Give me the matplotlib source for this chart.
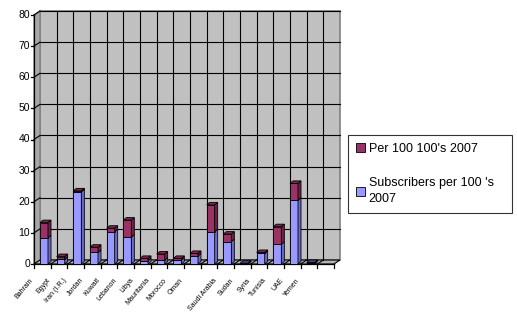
import matplotlib
matplotlib.use("Agg")
import matplotlib.pyplot as plt
from matplotlib.patches import Polygon, Patch

plt.rcParams['font.family'] = ['Liberation Sans', 'DejaVu Sans']

countries = ["Bahrain", "Egypt", "Iran (I.R.)", "Jordan", "Kuwait", "Lebanon",
             "Libya", "Mauritania", "Morocco", "Oman", "", "Saudi Arabia",
             "Sudan", "Syria", "Tunisia", "UAE", "Yemen", ""]
subscribers_2007 = [8.4, 1.5, 23.2, 3.7, 10.4, 8.6, 1.1, 1.3, 1.3, 2.6, 10.4,
                    7.2, 0.15, 3.4, 6.3, 20.5, 0.4, None]
per100_2007 = [4.9, 0.9, 0.3, 1.7, 1.1, 5.5, 0.7, 1.9, 0.5, 0.8, 8.6,
               2.4, 0.1, 0.3, 5.7, 5.4, 0.1, None]
yticks = [0, 10, 20, 30, 40, 50, 60, 70, 80]

W, H = 517, 320
fig = plt.figure(figsize=(W / 100, H / 100), dpi=100)
fig.patch.set_facecolor("white")

# front plane of the 3-D box in pixels
L, R, B, T = 34, 334, 264, 15
ax = fig.add_axes([L / W, (H - B) / H, (R - L) / W, (B - T) / H])
n = len(countries)
ymax = 80
ax.set_xlim(-0.5, n - 0.5)
ax.set_ylim(0, ymax)
ax.axis("off")

px_x = (n) / (R - L)          # data units per pixel, x
px_y = ymax / (B - T)         # data units per pixel, y
DX, DY = 6 * px_x, 4 * px_y   # depth of the box

x0, x1 = -0.5, n - 0.5
wall_c = "#C0C0C0"
edge_c = "#808080"

def poly(pts, fc, ec="none", lw=0.0, z=0):
    ax.add_patch(Polygon(pts, closed=True, facecolor=fc, edgecolor=ec,
                         linewidth=lw, zorder=z, clip_on=False))

# back wall, side wall, floor
poly([(x0 + DX, DY), (x1 + DX, DY), (x1 + DX, ymax + DY), (x0 + DX, ymax + DY)],
     wall_c, edge_c, 1.2, 0)
poly([(x0, 0), (x0 + DX, DY), (x0 + DX, ymax + DY), (x0, ymax)], "#A8A8A8", edge_c, 1.0, 0)
poly([(x0, 0), (x1, 0), (x1 + DX, DY), (x0 + DX, DY)], "#B4B4B4", "black", 0.8, 1)

# gridlines on the walls
for v in yticks[1:]:
    ax.plot([x0 + DX, x1 + DX], [v + DY, v + DY], color="black", lw=0.8, zorder=1, clip_on=False)
    ax.plot([x0, x0 + DX], [v, v + DY], color="black", lw=0.8, zorder=1, clip_on=False)
for k in range(1, n):
    xb = x0 + k
    ax.plot([xb + DX, xb + DX], [DY, ymax + DY], color="black", lw=0.8, zorder=1, clip_on=False)
    ax.plot([xb, xb + DX], [0, DY], color="black", lw=0.8, zorder=2, clip_on=False)

# value axis
ax.plot([x0, x0], [0, ymax], color="black", lw=0.9, zorder=2, clip_on=False)
for v in yticks:
    ax.plot([x0 - 3 * px_x, x0], [v, v], color="black", lw=0.9, zorder=2, clip_on=False)
    ax.text(x0 - 4 * px_x, v, str(v), ha="right", va="center", fontsize=7.5, color="black")
# category ticks along the front edge of the floor
for k in range(0, n + 1):
    xb = x0 + k
    ax.plot([xb, xb], [0, -4 * px_y], color="black", lw=0.9, zorder=2, clip_on=False)
ax.plot([x0, x1], [0, 0], color="black", lw=0.9, zorder=2, clip_on=False)

# stacked 3-D columns
bw = 0.48
shift = 0.1
bdx, bdy = 3 * px_x, 2.5 * px_y
series = [(subscribers_2007, "#9999FF", "#6A6AC8"),
          (per100_2007, "#993366", "#6B2347")]
for i in range(n):
    if subscribers_2007[i] is None:
        continue
    xc = i + shift
    base = 0.0
    for vals, fc, side_c in series:
        h = vals[i]
        top = base + h
        ax.bar(xc, h, bottom=base, width=bw, color=fc, edgecolor="black",
               linewidth=0.6, zorder=4)
        poly([(xc + bw / 2, base), (xc + bw / 2 + bdx, base + bdy),
              (xc + bw / 2 + bdx, top + bdy), (xc + bw / 2, top)], side_c, "black", 0.6, 4)
        base = top
    tc = "#7A2851" if per100_2007[i] > 0.2 else "#4B4B8C"
    poly([(xc - bw / 2, base), (xc + bw / 2, base), (xc + bw / 2 + bdx, base + bdy),
          (xc - bw / 2 + bdx, base + bdy)], tc, "black", 0.6, 4)

# category labels, slanted under the floor
for i, name in enumerate(countries):
    if not name:
        continue
    ax.text(i - 10 * px_x, -15 * px_y, name, rotation=50, rotation_mode="anchor",
            ha="right", va="center", fontsize=5, color="black", clip_on=False)

handles = [Patch(facecolor="#993366", edgecolor="black", linewidth=0.6),
           Patch(facecolor="#9999FF", edgecolor="black", linewidth=0.6)]
labels = ["Per 100 100's 2007", "Subscribers per 100 's\n2007"]
leg = fig.legend(handles, labels, loc="upper left",
                 bbox_to_anchor=(348 / W, 1 - 138 / H, 164 / W, 0.01), mode="expand",
                 frameon=True, fancybox=False, fontsize=9, handlelength=0.7,
                 handleheight=0.7, handletextpad=0.3, labelspacing=1.75,
                 borderpad=0.65, borderaxespad=0.0)
for t in leg.get_texts():
    t.set_linespacing(1.5)
leg.get_frame().set_edgecolor("black")
leg.get_frame().set_linewidth(0.8)

fig.savefig("out.png", dpi=100, facecolor="white")
